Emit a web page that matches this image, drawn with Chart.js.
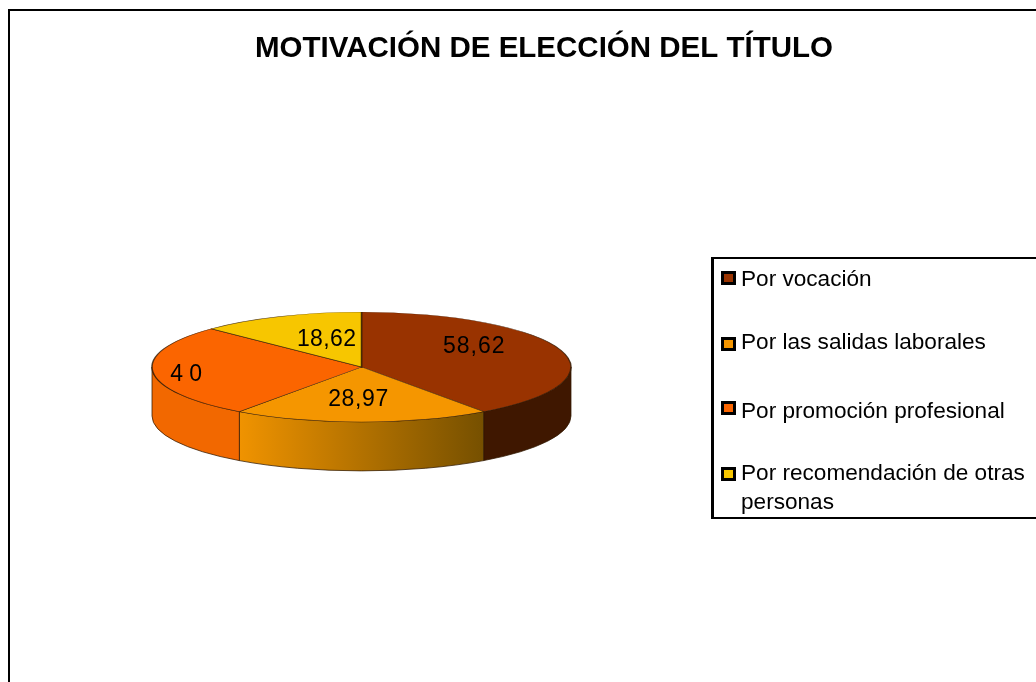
<!DOCTYPE html>
<html lang="es">
<head>
    <meta charset="UTF-8">
    <title>Motivación de elección del título</title>
    <script src="https://cdn.jsdelivr.net/npm/chart.js"></script>
    <style>
        html, body { margin: 0; padding: 0; background: #fff; overflow: hidden; }
        canvas { display: block; }
    </style>
</head>
<body>
    <canvas id="grafico" width="1036" height="682"></canvas>

    <script>
        // Datos
        const titulo = 'MOTIVACIÓN DE ELECCIÓN DEL TÍTULO';
        const categorias = ['Por vocación', 'Por las salidas laborales', 'Por promoción profesional', ['Por recomendación de otras', 'personas']];
        const valores = [58.62, 28.97, 40, 18.62];
        const etiquetas = ['58,62', '28,97', '40', '18,62'];

        // Estilos
        const colores = ['#993300', '#f59600', '#fb6500', '#f7c600'];
        const coloresLado = ['#3f1700', null, '#f26800', '#f7c600'];
        const FUENTE = '"Liberation Sans", Arial, sans-serif';

        // Disposicion: la tarta se dibuja aplastada para simular el 3D
        const centroX = 361.5, centroY = 367, radio = 209.5, inclinacion = 0.262, grosor = 49;
        const ajusteEtiqueta = [[13, -12], [-3, 5], [-68, 5], [6, -2]];
        const espacioEtiqueta = [1, 0.6, 6, 0.4];
        const leyendaY = [280, 343, 412, 474];
        const muestraY = [278, 344, 408, 474];

        function ladoTarta(ctx, arc, color) {
            const a0 = Math.max(arc.startAngle, 0);
            const a1 = Math.min(arc.endAngle, Math.PI);
            if (a1 <= a0) return;
            ctx.beginPath();
            ctx.ellipse(centroX, centroY, radio, radio * inclinacion, 0, a0, a1);
            ctx.ellipse(centroX, centroY + grosor, radio, radio * inclinacion, 0, a1, a0, true);
            ctx.closePath();
            if (color) {
                ctx.fillStyle = color;
            } else {
                // el lado naranja tiene un degradado hacia la derecha
                const x0 = centroX + radio * Math.cos(a1);
                const x1 = centroX + radio * Math.cos(a0);
                const g = ctx.createLinearGradient(x0, 0, x1, 0);
                g.addColorStop(0, '#f09300');
                g.addColorStop(1, '#765000');
                ctx.fillStyle = g;
            }
            ctx.fill();
            ctx.strokeStyle = 'rgba(50,25,0,0.75)';
            ctx.lineWidth = 1;
            ctx.stroke();
        }

        const tarta3d = {
            id: 'tarta3d',
            beforeDatasetsDraw(chart) {
                const ctx = chart.ctx;
                const arcs = chart.getDatasetMeta(0).data;
                arcs.forEach((arc, i) => ladoTarta(ctx, arc, coloresLado[i]));
                ctx.save();
                ctx.translate(centroX, centroY);
                ctx.scale(1, inclinacion);
                ctx.translate(-arcs[0].x, -arcs[0].y);
            },
            afterDatasetsDraw(chart) {
                const ctx = chart.ctx;
                ctx.restore();
                // etiquetas de valor
                const arcs = chart.getDatasetMeta(0).data;
                ctx.save();
                ctx.fillStyle = '#000';
                ctx.font = '23px ' + FUENTE;
                ctx.textAlign = 'center';
                ctx.textBaseline = 'middle';
                arcs.forEach((arc, i) => {
                    const c = arc.getCenterPoint();
                    const x = centroX + (c.x - arc.x) + ajusteEtiqueta[i][0];
                    const y = centroY + (c.y - arc.y) * inclinacion + ajusteEtiqueta[i][1];
                    ctx.letterSpacing = espacioEtiqueta[i] + 'px';
                    ctx.fillText(etiquetas[i], x, y);
                });
                ctx.restore();
            },
            afterDraw(chart) {
                const ctx = chart.ctx;
                ctx.save();
                // marco exterior, cortado por la derecha y por abajo
                ctx.strokeStyle = '#000';
                ctx.lineWidth = 2;
                ctx.strokeRect(9, 10, 1100, 800);
                // caja de la leyenda
                ctx.fillStyle = '#000';
                ctx.fillRect(711, 257, 3, 262);
                ctx.fillRect(711, 257, 325, 2);
                ctx.fillRect(711, 517, 325, 2);
                ctx.font = '22.6px ' + FUENTE;
                ctx.textBaseline = 'middle';
                categorias.forEach((cat, i) => {
                    ctx.fillStyle = '#000';
                    ctx.fillRect(721, muestraY[i] - 7, 15, 14);
                    ctx.fillStyle = colores[i];
                    ctx.fillRect(724, muestraY[i] - 4, 9, 8);
                    ctx.fillStyle = '#000';
                    [].concat(cat).forEach((linea, j) => {
                        ctx.fillText(linea, 741, leyendaY[i] + j * 29);
                    });
                });
                ctx.restore();
            }
        };

        new Chart(document.getElementById('grafico'), {
            type: 'pie',
            data: {
                labels: categorias,
                datasets: [{
                    data: valores,
                    backgroundColor: colores,
                    borderColor: 'rgba(50,25,0,0.8)',
                    borderWidth: 1.5,
                    radius: radio
                }]
            },
            options: {
                responsive: false,
                animation: false,
                layout: { padding: { left: 52 } },
                plugins: {
                    legend: { display: false },
                    tooltip: { enabled: false },
                    title: {
                        display: true,
                        text: titulo,
                        color: '#000',
                        font: { family: FUENTE, size: 29.5, weight: 'bold', lineHeight: 1.2 },
                        padding: { top: 31, bottom: 10 }
                    }
                }
            },
            plugins: [tarta3d]
        });
    </script>
</body>
</html>
